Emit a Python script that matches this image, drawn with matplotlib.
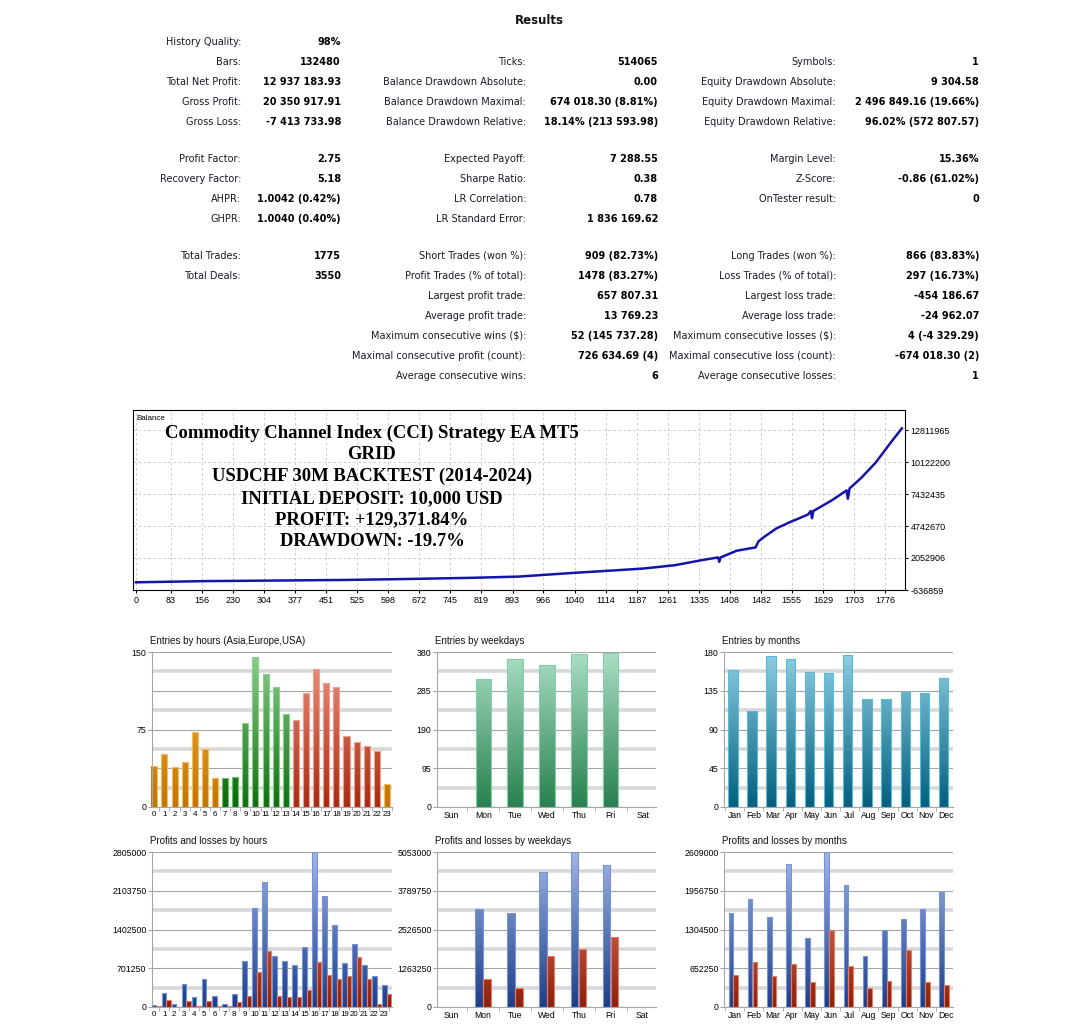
import numpy as np
import matplotlib
matplotlib.use("Agg")
import matplotlib.pyplot as plt
from matplotlib.colors import LinearSegmentedColormap
from matplotlib.patches import Rectangle

W, H = 1079, 1026

# ---- report table -------------------------------------------------
col1 = [("History Quality:", "98%"), ("Bars:", "132480"), ("Total Net Profit:", "12 937 183.93"),
        ("Gross Profit:", "20 350 917.91"), ("Gross Loss:", "-7 413 733.98"), None,
        ("Profit Factor:", "2.75"), ("Recovery Factor:", "5.18"), ("AHPR:", "1.0042 (0.42%)"),
        ("GHPR:", "1.0040 (0.40%)"), None,
        ("Total Trades:", "1775"), ("Total Deals:", "3550")]
col2 = [None, ("Ticks:", "514065"), ("Balance Drawdown Absolute:", "0.00"),
        ("Balance Drawdown Maximal:", "674 018.30 (8.81%)"),
        ("Balance Drawdown Relative:", "18.14% (213 593.98)"), None,
        ("Expected Payoff:", "7 288.55"), ("Sharpe Ratio:", "0.38"), ("LR Correlation:", "0.78"),
        ("LR Standard Error:", "1 836 169.62"), None,
        ("Short Trades (won %):", "909 (82.73%)"), ("Profit Trades (% of total):", "1478 (83.27%)"),
        ("Largest profit trade:", "657 807.31"), ("Average profit trade:", "13 769.23"),
        ("Maximum consecutive wins ($):", "52 (145 737.28)"),
        ("Maximal consecutive profit (count):", "726 634.69 (4)"),
        ("Average consecutive wins:", "6")]
col3 = [None, ("Symbols:", "1"), ("Equity Drawdown Absolute:", "9 304.58"),
        ("Equity Drawdown Maximal:", "2 496 849.16 (19.66%)"),
        ("Equity Drawdown Relative:", "96.02% (572 807.57)"), None,
        ("Margin Level:", "15.36%"), ("Z-Score:", "-0.86 (61.02%)"), ("OnTester result:", "0"),
        None, None,
        ("Long Trades (won %):", "866 (83.83%)"), ("Loss Trades (% of total):", "297 (16.73%)"),
        ("Largest loss trade:", "-454 186.67"), ("Average loss trade:", "-24 962.07"),
        ("Maximum consecutive losses ($):", "4 (-4 329.29)"),
        ("Maximal consecutive loss (count):", "-674 018.30 (2)"),
        ("Average consecutive losses:", "1")]

# ---- balance curve ------------------------------------------------
trades = [0, 164, 340, 498, 653, 800, 907, 1049, 1130, 1203, 1278, 1346, 1380, 1383, 1386,
          1424, 1469, 1476, 1488, 1519, 1550, 1593, 1600, 1603, 1606, 1650, 1685, 1688,
          1692, 1720, 1754, 1791, 1816]
balance = [10e3, 110e3, 160e3, 209e3, 294e3, 390e3, 491e3, 829e3, 1000e3, 1168e3, 1449e3,
           1901e3, 2098e3, 1731e3, 2098e3, 2662e3, 2944e3, 3450e3, 3790e3, 4551e3, 5058e3,
           5700e3, 6000e3, 5400e3, 6000e3, 6900e3, 7737e3, 7032e3, 7900e3, 8800e3, 10077e3,
           11825e3, 12947e3]
bal_xticks = [0, 83, 156, 230, 304, 377, 451, 525, 598, 672, 745, 819, 893, 966, 1040, 1114,
              1187, 1261, 1335, 1408, 1482, 1555, 1629, 1703, 1776]
bal_yticks = [-636859, 2052906, 4742670, 7432435, 10122200, 12811965]
bal_text = ["Commodity Channel Index (CCI) Strategy EA MT5", "GRID",
            "USDCHF 30M BACKTEST (2014-2024)", "INITIAL DEPOSIT: 10,000 USD",
            "PROFIT: +129,371.84%", "DRAWDOWN: -19.7%"]

# ---- distribution charts ------------------------------------------
hours = [str(h) for h in range(24)]
weekdays = ["Sun", "Mon", "Tue", "Wed", "Thu", "Fri", "Sat"]
months = ["Jan", "Feb", "Mar", "Apr", "May", "Jun", "Jul", "Aug", "Sep", "Oct", "Nov", "Dec"]

entries_hours = [40, 51, 39, 44, 73, 56, 28, 28, 29, 81, 145, 129, 116, 90, 84, 110, 134, 120,
                 116, 69, 63, 59, 54, 22]
entries_weekdays = [0, 314, 362, 347, 375, 378, 0]
entries_months = [159, 112, 175, 172, 157, 156, 176, 126, 126, 134, 132, 150]

profit_hours = [30e3, 250e3, 54e3, 414e3, 174e3, 498e3, 192e3, 60e3, 234e3, 839e3, 1787e3,
                2266e3, 917e3, 827e3, 755e3, 1091e3, 2805e3, 2014e3, 1475e3, 797e3, 1139e3,
                761e3, 564e3, 402e3]
loss_hours = [25e3, 126e3, 5e3, 114e3, 18e3, 114e3, 12e3, 12e3, 90e3, 192e3, 641e3, 1007e3,
              192e3, 180e3, 186e3, 312e3, 809e3, 588e3, 510e3, 552e3, 911e3, 504e3, 54e3, 234e3]
profit_weekdays = [0, 3207e3, 3056e3, 4406e3, 5053e3, 4633e3, 0]
loss_weekdays = [0, 929e3, 616e3, 1674e3, 1900e3, 2289e3, 0]
profit_months = [1577e3, 1817e3, 1516e3, 2402e3, 1154e3, 2609e3, 2057e3, 864e3, 1299e3,
                 1488e3, 1656e3, 1929e3]
loss_months = [541e3, 753e3, 518e3, 719e3, 418e3, 1293e3, 686e3, 318e3, 440e3, 959e3,
               418e3, 368e3]

# (bottom, top, edge) gradient colours
ORANGE = ("#c27400", "#f7b845", "#f6bd5a")
GREEN = ("#107010", "#8cd08c", "#8ad08a")
DKGREEN = ("#0c6a0c", "#5cb85c", "#6ac06a")
RED = ("#a82a10", "#f09482", "#f0a090")
MINT = ("#2a8050", "#aadfc4", "#80d0a4")
CYAN = ("#02607e", "#8fd0e4", "#58bcd8")
BLUE = ("#1e3c88", "#a0b6e6", "#7494dc")
LOSS = ("#8c2008", "#f2917a", "#e87a64")
SMALL = ["Liberation Sans", "DejaVu Sans"]

fig = plt.figure(figsize=(W / 100, H / 100), dpi=100)


def fx(x):
    return x / W


def fy(y):
    return 1 - y / H


def px_axes(x0, y0, x1, y1):
    return fig.add_axes([fx(x0), fy(y1), (x1 - x0) / W, (y1 - y0) / H])


# ---- table --------------------------------------------------------
fig.text(fx(539), fy(20), "Results", ha="center", va="center", fontsize=8.5,
         fontweight="bold", color="#111111")
row_y = [42 + 20 * i for i in range(5)] + [0] + [159 + 20 * i for i in range(4)] + [0] + \
        [256 + 20 * i for i in range(7)]
for col, xl, xv in [(col1, 241, 341), (col2, 526, 658), (col3, 836, 979)]:
    for i, item in enumerate(col):
        if item is None:
            continue
        lab, val = item
        fig.text(fx(xl), fy(row_y[i]), lab, ha="right", va="center", fontsize=7,
                 color="#1a1a2a")
        fig.text(fx(xv), fy(row_y[i]), val, ha="right", va="center", fontsize=7,
                 fontweight="bold", color="#000000")

# ---- balance graph ------------------------------------------------
ax = px_axes(133, 410, 905, 590)
ax.plot(trades, balance, color="#1414a8", lw=1.8, solid_joinstyle="round")
ax.set_xlim(-7.1, 1823.4)
ax.set_ylim(-636859, 14493069)
ax.set_xticks(bal_xticks)
ax.set_xticklabels([str(t) for t in bal_xticks])
ax.set_yticks(bal_yticks)
ax.set_yticklabels([str(t) for t in bal_yticks])
ax.yaxis.tick_right()
ax.tick_params(axis="both", labelsize=6.5, length=2, pad=2, colors="#000000")
for lab in ax.get_xticklabels() + ax.get_yticklabels():
    lab.set_family(SMALL)
ax.grid(True, color="#c4c4c4", lw=0.6, ls=(0, (3, 3)))
for s in ax.spines.values():
    s.set_color("#000000")
    s.set_linewidth(0.8)
ax.text(0.005, 0.955, "Balance", transform=ax.transAxes, fontsize=5.8, va="center",
        family=SMALL)
for i, line in enumerate(bal_text):
    fig.text(fx(372), fy(433 + 21.8 * i), line, ha="center", va="center",
             family="Liberation Serif", fontweight="bold", fontsize=13.4, color="#000000")


# ---- bar panels ---------------------------------------------------
def gbar(ax, x, w, h, style, ymax):
    if h <= 0:
        return
    bot, top, edge = style
    cmap = LinearSegmentedColormap.from_list("g", [bot, top])
    rect = Rectangle((x - w / 2, 0), w, h, facecolor="none", edgecolor=edge, lw=0.8, zorder=3)
    ax.add_patch(rect)
    grad = np.linspace(0, 1, 128)[:, None]
    im = ax.imshow(grad, extent=(x - w / 2, x + w / 2, 0, ymax), origin="lower", cmap=cmap,
                   aspect="auto", zorder=2, interpolation="bilinear")
    im.set_clip_path(rect)


def panel(box, title, labels, ymax, yticks, xsize=6.2):
    ax = px_axes(*box)
    for k in range(9):
        y = ymax * k / 8
        if k % 2 == 0:
            ax.axhline(y, color="#a6a6a6", lw=0.8, zorder=1)
        else:
            ax.axhline(y, color="#d8d8d8", lw=2.6, zorder=0.5)
    ax.set_yticks(yticks)
    ax.set_yticklabels([str(int(t)) for t in yticks], family=SMALL)
    n = len(labels)
    ax.set_xticks(range(n))
    ax.set_xticklabels(labels, family=SMALL)
    ax.set_xticks([i + 0.5 for i in range(-1, n)], minor=True)
    ax.tick_params(axis="x", which="major", length=0, labelsize=xsize, pad=3)
    ax.tick_params(axis="x", which="minor", length=3, color="#a6a6a6")
    ax.tick_params(axis="y", length=3, color="#a6a6a6", labelsize=6.3, pad=1)
    for s in ["top", "right"]:
        ax.spines[s].set_visible(False)
    for s in ["left", "bottom"]:
        ax.spines[s].set_color("#a6a6a6")
        ax.spines[s].set_linewidth(0.8)
    fig.text(fx(box[0] - 2), fy(box[1] - 11), title, ha="left", va="center", fontsize=7,
             color="#111111", family=SMALL)
    return ax


def quarter(m):
    return [m * k / 4 for k in range(5)]


# entries by hours
ax1 = panel((152, 652, 392, 807), "Entries by hours (Asia,Europe,USA)", hours, 150,
            [0, 75, 150], 5.7)
for h, v in enumerate(entries_hours):
    st = ORANGE if (h < 7 or h == 23) else (GREEN if h < 14 else RED)
    if h in (7, 8):
        st = DKGREEN
    gbar(ax1, h, 0.6, v, st, 150)
ax1.set_xlim(-0.23, 23.5)
ax1.set_ylim(0, 150)

# entries by weekdays
ax2 = panel((437, 652, 656, 807), "Entries by weekdays", weekdays, 380, quarter(380))
for i, v in enumerate(entries_weekdays):
    gbar(ax2, i, 0.48, v, MINT, 380)
ax2.set_xlim(-0.45, 6.42)
ax2.set_ylim(0, 380)

# entries by months
ax3 = panel((724, 652, 953, 807), "Entries by months", months, 180, quarter(180))
for i, v in enumerate(entries_months):
    gbar(ax3, i - 0.1, 0.49, v, CYAN, 180)
ax3.set_xlim(-0.56, 11.39)
ax3.set_ylim(0, 180)

# profits and losses by hours
ax4 = panel((152, 852, 392, 1007), "Profits and losses by hours", hours, 2805000,
            quarter(2805000), 5.7)
for h in range(24):
    gbar(ax4, h, 0.43, profit_hours[h], BLUE, 2805000)
    gbar(ax4, h + 0.43, 0.43, loss_hours[h], LOSS, 2805000)
ax4.set_xlim(-0.23, 23.75)
ax4.set_ylim(0, 2805000)

# profits and losses by weekdays
ax5 = panel((437, 852, 656, 1007), "Profits and losses by weekdays", weekdays, 5053000,
            quarter(5053000))
for i in range(7):
    gbar(ax5, i - 0.13, 0.24, profit_weekdays[i], BLUE, 5053000)
    gbar(ax5, i + 0.12, 0.24, loss_weekdays[i], LOSS, 5053000)
ax5.set_xlim(-0.44, 6.42)
ax5.set_ylim(0, 5053000)

# profits and losses by months
ax6 = panel((724, 852, 953, 1007), "Profits and losses by months", months, 2609000,
            quarter(2609000))
for i in range(12):
    gbar(ax6, i - 0.2, 0.245, profit_months[i], BLUE, 2609000)
    gbar(ax6, i + 0.05, 0.245, loss_months[i], LOSS, 2609000)
ax6.set_xlim(-0.56, 11.39)
ax6.set_ylim(0, 2609000)

fig.savefig("out.png", dpi=100)
